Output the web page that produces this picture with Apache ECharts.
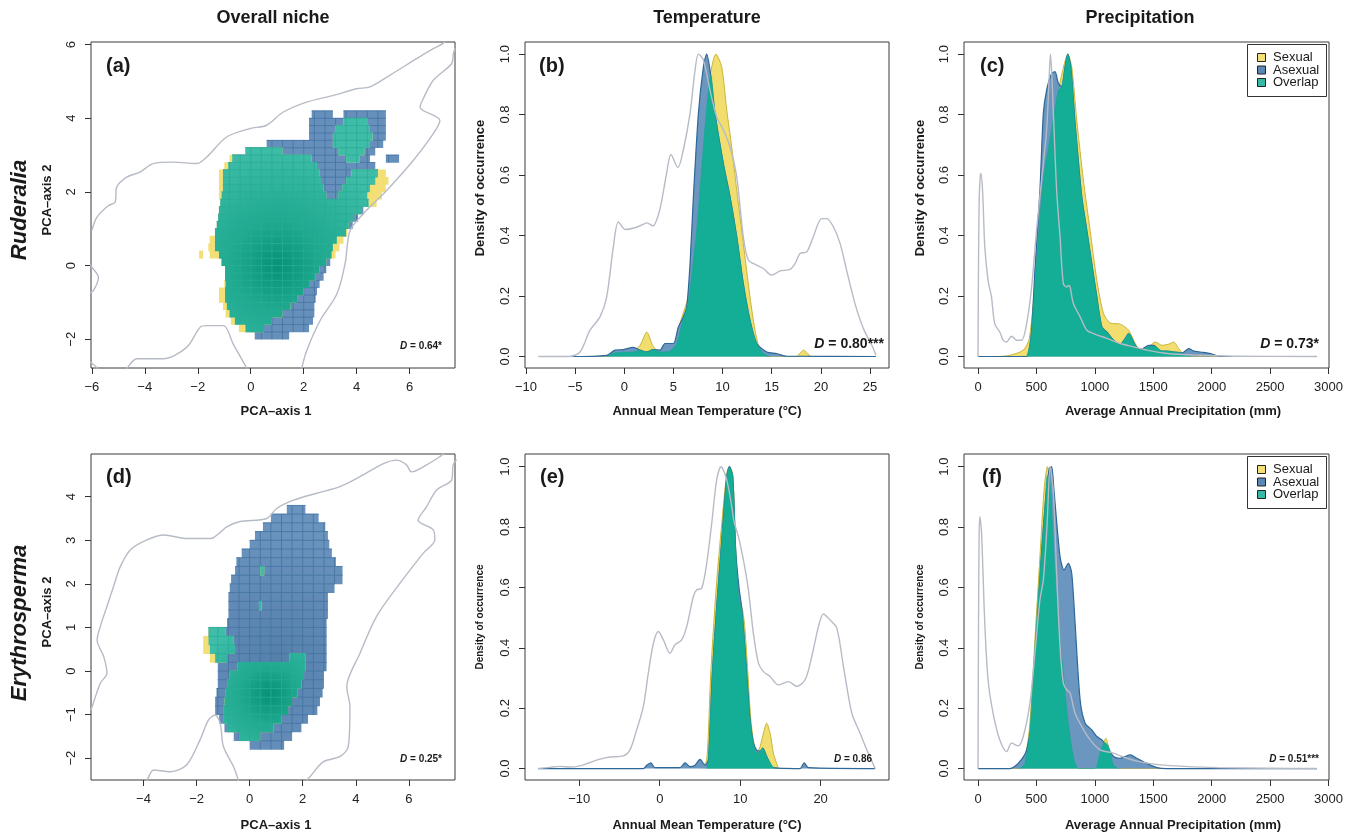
<!DOCTYPE html>
<html><head><meta charset="utf-8">
<script src="https://cdn.jsdelivr.net/npm/echarts@6/dist/echarts.min.js"></script>
<style>html,body{margin:0;padding:0;background:#fff}#c{width:1351px;height:834px}</style>
</head><body><div id="c"></div>
<script>
// ---------------- DATA ----------------
// Column titles / row labels
const COL_TITLES = ['Overall niche', 'Temperature', 'Precipitation'];
const ROW_LABELS = ['Ruderalia', 'Erythrosperma'];
const PANEL_TAGS = ['(a)', '(b)', '(c)', '(d)', '(e)', '(f)'];
const D_VALUES = ['0.64*', '0.80***', '0.73*', '0.25*', '0.86', '0.51***'];
const LEGEND_NAMES = ['Sexual', 'Asexual', 'Overlap'];

// Tick values
const TICKS_A_X = [-6, -4, -2, 0, 2, 4, 6];
const TICKS_A_Y = [-2, 0, 2, 4, 6];
const TICKS_D_X = [-4, -2, 0, 2, 4, 6];
const TICKS_D_Y = [-2, -1, 0, 1, 2, 3, 4];
const TICKS_B_X = [-10, -5, 0, 5, 10, 15, 20, 25];
const TICKS_E_X = [-10, 0, 10, 20];
const TICKS_P_X = [0, 500, 1000, 1500, 2000, 2500, 3000];
const TICKS_DENS_Y = [0, 0.2, 0.4, 0.6, 0.8, 1.0];

// Niche rasters: rows [yBottom, xStart, xEnd] (row height 0.2)
const NICHE_A_ASEXUAL = [
  [4.0, 2.3, 3.1], [4.0, 3.5, 5.1], [3.8, 2.2, 5.1], [3.6, 2.2, 5.1], [3.4, 2.2, 5.1],
  [3.2, 0.6, 5.0], [3.0, -0.2, 4.7], [2.8, -0.7, 4.5], [2.8, 5.1, 5.6], [2.6, -0.85, 4.7],
  [2.4, -1.05, 4.8], [2.2, -1.05, 4.7], [2.0, -1.05, 4.5], [1.8, -1.1, 4.4], [1.6, -1.15, 4.45],
  [1.4, -1.2, 4.25], [1.2, -1.22, 4.05], [1.0, -1.28, 3.85], [0.8, -1.35, 3.6], [0.6, -1.35, 3.25],
  [0.4, -1.35, 3.1], [0.2, -1.2, 3.05], [0.0, -1.1, 3.0], [-0.2, -0.97, 2.85], [-0.4, -0.97, 2.75],
  [-0.6, -0.95, 2.6], [-0.8, -0.97, 2.5], [-1.0, -0.97, 2.45], [-1.2, -0.9, 2.4], [-1.4, -0.8, 2.4],
  [-1.6, -0.6, 2.35], [-1.8, -0.2, 2.2], [-2.0, 0.15, 1.45]
];
const NICHE_A_SEXUAL = [
  [3.8, 3.5, 4.4], [3.6, 3.2, 4.5], [3.4, 3.1, 4.6], [3.2, 3.1, 4.5],
  [3.0, -0.2, 1.2], [3.0, 3.3, 4.3], [2.8, -0.8, 2.3], [2.8, 3.6, 4.1], [2.6, -1.0, 2.5],
  [2.4, -1.2, 2.6], [2.4, 3.8, 5.1], [2.2, -1.2, 2.65], [2.2, 3.6, 5.2], [2.0, -1.2, 2.75], [2.0, 3.45, 5.1],
  [1.8, -1.2, 2.85], [1.8, 3.3, 4.95], [1.6, -1.15, 4.75], [1.4, -1.2, 4.2], [1.2, -1.22, 3.9],
  [1.0, -1.28, 3.7], [0.8, -1.35, 3.65], [0.6, -1.55, 3.5], [0.4, -1.6, 3.35],
  [0.2, -1.95, -1.8], [0.2, -1.55, 3.2], [0.0, -1.1, 2.85], [-0.2, -0.97, 2.6], [-0.4, -0.97, 2.45],
  [-0.6, -1.0, 2.2], [-0.8, -1.2, 2.0], [-1.0, -1.2, 1.75], [-1.2, -1.05, 1.5], [-1.4, -0.95, 1.2],
  [-1.6, -0.75, 0.8], [-1.8, -0.45, 0.5]
];
const NICHE_D_ASEXUAL = [
  [3.6, 1.4, 2.1], [3.4, 0.8, 2.6], [3.2, 0.5, 2.85], [3.0, 0.2, 2.95], [2.8, 0.0, 3.0],
  [2.6, -0.3, 3.1], [2.4, -0.5, 3.25], [2.2, -0.55, 3.5], [2.0, -0.7, 3.5], [1.8, -0.75, 3.2],
  [1.6, -0.8, 2.95], [1.4, -0.8, 2.95], [1.2, -0.8, 2.95], [1.0, -0.85, 2.9], [0.8, -1.55, 2.9],
  [0.6, -1.55, 2.9], [0.4, -1.5, 2.9], [0.2, -1.3, 2.9], [0.0, -1.2, 2.9], [-0.2, -1.2, 2.8],
  [-0.4, -1.2, 2.8], [-0.6, -1.25, 2.75], [-0.8, -1.3, 2.65], [-1.0, -1.3, 2.55], [-1.2, -1.15, 2.2],
  [-1.4, -0.95, 1.95], [-1.6, -0.6, 1.6], [-1.8, 0.0, 1.3]
];
const NICHE_D_SEXUAL = [
  [2.2, 0.4, 0.55], [1.4, 0.35, 0.45], [0.8, -1.55, -0.9], [0.6, -1.75, -0.6], [0.4, -1.75, -0.55],
  [0.2, -1.5, -0.85], [0.2, 1.5, 2.1], [0.0, -0.45, 2.1], [-0.2, -0.75, 2.05], [-0.4, -0.85, 1.95],
  [-0.6, -0.9, 1.8], [-0.8, -0.95, 1.6], [-1.0, -1.0, 1.45], [-1.2, -1.0, 1.2], [-1.4, -0.85, 0.9],
  [-1.6, -0.4, 0.4]
];
// density peaks used for shading of niche rasters
const NICHE_A_PEAK = [1.0, 0.0];
const NICHE_D_PEAK = [0.75, -0.55];
const NICHE_D_ASEX_PEAK = [1.0, 0.3];

// Background environment contour lines [x, y]
const ENV_A = [
  [[-6.0,0.95],[-5.81,1.31],[-5.37,1.63],[-5.12,1.72],[-5.06,2.13],[-4.68,2.40],[-4.18,2.54],[-3.68,2.77],[-2.92,2.81],[-2.04,2.77],[-1.66,2.95],[-0.91,3.49],[-0.03,3.72],[0.60,3.81],[1.23,4.17],[2.11,4.44],[3.12,4.62],[4.0,4.80],[4.5,4.85],[5.26,5.17],[6.26,5.62],[6.89,5.89],[7.27,6.04],[7.4,6.2]],
  [[7.72,5.9],[7.65,5.76],[7.58,5.48],[6.89,5.03],[6.51,4.53],[6.39,4.30],[7.14,3.94],[6.89,3.58],[6.14,2.86],[5.13,2.04],[4.25,1.41],[3.75,0.95],[3.56,0.05],[3.25,-0.77],[2.62,-1.49],[2.11,-2.31],[1.92,-2.79],[1.88,-2.9]],
  [[-4.75,-2.9],[-4.68,-2.79],[-4.30,-2.53],[-3.30,-2.53],[-2.42,-2.22],[-1.91,-1.67],[-1.66,-1.63],[-1.03,-1.63],[-0.66,-2.13],[-0.15,-2.79],[-0.1,-2.9]],
  [[-6.1,0.05],[-6.0,-0.04],[-5.75,-0.32],[-5.94,-0.68],[-6.1,-0.75]],
  [[-6.1,-2.6],[-6.0,-2.65],[-5.82,-2.76],[-5.7,-2.9]]
];
const ENV_D = [
  [[-6.0,-0.9],[-5.94,-0.82],[-5.63,-0.28],[-5.38,-0.05],[-5.50,0.33],[-5.75,0.71],[-5.63,1.02],[-5.38,1.48],[-5.13,1.94],[-4.88,2.39],[-4.5,2.78],[-3.87,3.01],[-3.24,3.12],[-2.37,3.04],[-1.49,3.04],[-0.86,3.31],[-0.36,3.43],[0.64,3.50],[1.02,3.73],[1.65,3.92],[2.53,4.08],[3.40,4.23],[4.16,4.46],[5.04,4.76],[5.54,4.84],[5.91,4.73],[6.10,4.57],[6.67,4.73],[7.17,4.92],[7.29,4.98],[7.35,5.05]],
  [[7.8,4.85],[7.67,4.73],[7.61,4.38],[7.04,4.15],[6.67,3.77],[6.35,3.46],[6.92,3.24],[6.98,3.01],[6.54,2.70],[5.66,2.01],[4.78,1.25],[4.16,0.41],[3.66,-0.36],[3.78,-0.82],[3.72,-1.73],[3.41,-1.96],[2.78,-2.08],[2.28,-2.42],[2.15,-2.51],[2.1,-2.6]],
  [[-3.95,-2.6],[-3.87,-2.51],[-3.62,-2.27],[-2.99,-2.31],[-2.37,-2.15],[-1.87,-1.58],[-1.55,-1.12],[-1.30,-1.01],[-1.11,-1.20],[-0.99,-1.73],[-0.61,-2.19],[-0.42,-2.51],[-0.38,-2.6]]
];

// (b) Ruderalia, annual mean temperature
const B_ENV = [[-8.74,0],[-5.69,0],[-4.5,0.015],[-3.49,0.087],[-2.47,0.131],[-1.79,0.197],[-1.11,0.363],[-0.6,0.445],[0.1,0.42],[1.0,0.425],[1.8,0.435],[2.3,0.442],[2.9,0.432],[3.6,0.484],[4.3,0.605],[4.75,0.668],[5.45,0.625],[6.0,0.682],[6.69,0.804],[7.2,0.947],[7.54,1.0],[8.05,0.98],[8.72,0.881],[9.4,0.793],[10.08,0.749],[10.76,0.693],[11.44,0.594],[12.11,0.396],[12.62,0.319],[13.47,0.302],[14.15,0.291],[15.0,0.269],[15.84,0.283],[16.86,0.288],[17.37,0.307],[17.88,0.341],[18.56,0.346],[19.23,0.396],[20.08,0.456],[20.59,0.456],[21.27,0.429],[21.95,0.374],[22.62,0.285],[23.47,0.175],[24.32,0.093],[25.17,0.038],[25.61,0.004]];
const B_SEXUAL = [[-5.7,0],[-1.8,0],[-0.4,0.01],[0.9,0.018],[1.6,0.037],[2.1,0.072],[2.28,0.081],[2.45,0.074],[2.96,0.032],[3.64,0.015],[4.65,0.018],[5.33,0.048],[5.67,0.109],[6.69,0.219],[7.37,0.418],[8.05,0.693],[8.65,0.914],[9.33,1.0],[9.91,0.958],[10.42,0.815],[10.93,0.693],[11.44,0.55],[12.11,0.374],[12.79,0.197],[13.3,0.087],[13.81,0.021],[14.49,0.001],[17.5,0],[17.9,0.012],[18.22,0.021],[18.6,0.012],[19.0,0],[25.6,0]];
const B_ASEXUAL = [[-5.7,0],[-1.79,0.004],[-0.94,0.021],[-0.09,0.023],[0.92,0.03],[1.6,0.021],[2.28,0.015],[2.96,0.023],[3.64,0.021],[4.14,0.043],[4.99,0.043],[5.5,0.098],[6.01,0.131],[6.35,0.164],[6.69,0.307],[7.03,0.528],[7.54,0.804],[8.05,0.958],[8.38,1.0],[8.72,0.947],[9.23,0.804],[10.08,0.638],[10.76,0.528],[11.44,0.396],[12.11,0.241],[12.79,0.12],[13.47,0.043],[14.49,0.015],[15.5,0.01],[16.5,0.001],[25.6,0]];
const B_OVERLAP = [[-1.8,0],[-0.94,0.012],[0.92,0.015],[1.6,0.02],[2.28,0.015],[2.96,0.023],[3.64,0.015],[4.65,0.018],[5.33,0.043],[5.84,0.105],[6.35,0.16],[6.69,0.219],[7.37,0.418],[8.05,0.693],[8.65,0.914],[8.8,0.93],[9.23,0.804],[10.08,0.638],[10.76,0.528],[11.44,0.396],[12.11,0.241],[12.79,0.12],[13.47,0.043],[14.15,0.01],[14.83,0]];

// (c) Ruderalia, annual precipitation
const C_ENV = [[0,0],[4,0.3],[10,0.52],[18,0.59],[25,0.605],[40,0.54],[58,0.363],[86,0.252],[115,0.197],[143,0.109],[186,0.081],[215,0.054],[244,0.048],[287,0.067],[330,0.054],[373,0.054],[416,0.109],[459,0.23],[501,0.418],[544,0.583],[587,0.749],[612,0.95],[620,1.0],[632,0.93],[645,0.804],[673,0.55],[702,0.396],[730,0.241],[759,0.23],[775,0.235],[788,0.23],[816,0.175],[874,0.131],[931,0.087],[988,0.076],[1103,0.06],[1217,0.043],[1332,0.032],[1446,0.021],[1618,0.01],[1904,0.004],[2190,0.001],[2900,0]];
const C_SEXUAL = [[0,0],[158,0],[272,0.004],[387,0.021],[440,0.06],[501,0.307],[559,0.583],[630,0.749],[688,0.881],[740,0.97],[768,1.0],[802,0.958],[845,0.782],[902,0.583],[959,0.418],[1017,0.252],[1074,0.142],[1131,0.111],[1217,0.107],[1289,0.087],[1346,0.043],[1389,0.021],[1461,0.032],[1518,0.048],[1575,0.037],[1632,0.041],[1675,0.048],[1718,0.026],[1761,0.007],[1818,0],[2900,0]];
const C_ASEXUAL = [[0,0],[416,0],[440,0.03],[459,0.087],[487,0.285],[530,0.55],[559,0.804],[587,0.881],[630,0.936],[659,0.942],[688,0.903],[716,0.892],[745,0.958],[768,1.0],[794,0.958],[831,0.771],[888,0.528],[931,0.418],[974,0.307],[1017,0.197],[1060,0.098],[1103,0.081],[1160,0.054],[1217,0.04],[1260,0.06],[1289,0.076],[1346,0.037],[1389,0.021],[1461,0.037],[1504,0.037],[1561,0.018],[1618,0.018],[1675,0.015],[1747,0.012],[1804,0.026],[1847,0.018],[1904,0.015],[1990,0.01],[2076,0],[2900,0]];
const C_OVERLAP = [[416,0],[440,0.03],[459,0.087],[501,0.307],[559,0.583],[630,0.749],[688,0.881],[716,0.892],[745,0.958],[768,1.0],[794,0.958],[831,0.771],[888,0.528],[931,0.418],[974,0.307],[1017,0.197],[1060,0.098],[1103,0.081],[1160,0.054],[1217,0.04],[1260,0.06],[1289,0.076],[1346,0.037],[1389,0.021],[1461,0.032],[1518,0.033],[1575,0.018],[1632,0.018],[1675,0.015],[1718,0.013],[1761,0.007],[1818,0]];

// (e) Erythrosperma, annual mean temperature
const E_ENV = [[-15.1,0],[-13.65,0.004],[-12.4,0.007],[-11.16,0.005],[-9.91,0.009],[-8.67,0.02],[-7.43,0.031],[-6.18,0.038],[-4.53,0.042],[-3.7,0.062],[-2.87,0.128],[-2.04,0.205],[-1.42,0.316],[-0.79,0.415],[-0.17,0.454],[0.45,0.426],[1.28,0.382],[1.9,0.41],[2.73,0.426],[3.35,0.47],[4.18,0.57],[4.6,0.592],[5.22,0.597],[5.84,0.68],[6.46,0.812],[7.08,0.956],[7.62,1.0],[8.33,0.956],[8.95,0.868],[9.24,0.818],[9.78,0.768],[10.4,0.691],[11.02,0.592],[11.64,0.448],[12.27,0.349],[12.89,0.321],[13.72,0.305],[14.75,0.277],[16.0,0.288],[17.03,0.272],[18.07,0.294],[18.9,0.371],[19.73,0.47],[20.35,0.512],[21.18,0.492],[22.01,0.465],[22.84,0.338],[23.88,0.183],[24.91,0.117],[25.74,0.062],[26.78,0]];
const E_SEXUAL = [[5.22,0],[5.84,0.028],[6.34,0.316],[7.0,0.592],[7.71,0.812],[8.33,0.978],[8.66,1.0],[9.07,0.978],[9.45,0.72],[9.9,0.56],[10.3,0.525],[10.6,0.46],[10.95,0.32],[11.3,0.17],[11.64,0.095],[12.06,0.051],[12.47,0.073],[12.89,0.117],[13.3,0.15],[13.72,0.117],[14.13,0.051],[14.75,0]];
const E_ASEXUAL = [[-15.1,0],[-2.04,0],[-1.62,0.011],[-1.1,0.019],[-0.6,0.003],[2.52,0.003],[3.14,0.019],[3.77,0.006],[4.39,0.011],[5.01,0.03],[5.63,0.011],[6.05,0.03],[6.54,0.316],[7.08,0.537],[7.71,0.757],[8.33,0.967],[8.66,1.0],[9.07,0.967],[9.45,0.72],[9.85,0.6],[10.2,0.53],[10.6,0.4],[10.9,0.28],[11.2,0.17],[11.6,0.09],[12.06,0.06],[12.5,0.058],[12.8,0.068],[13.3,0.04],[14.13,0.003],[17.45,0],[17.95,0.019],[18.49,0.003],[26.78,0]];
const E_OVERLAP = [[5.84,0],[6.05,0.03],[6.54,0.316],[7.08,0.537],[7.71,0.757],[8.33,0.967],[8.66,1.0],[9.07,0.967],[9.45,0.72],[9.85,0.56],[10.2,0.525],[10.6,0.4],[10.9,0.28],[11.2,0.17],[11.6,0.09],[12.06,0.051],[12.5,0.058],[12.8,0.068],[13.3,0.04],[14.13,0.003],[14.5,0]];

// (f) Erythrosperma, annual precipitation
const F_ENV = [[0,0],[4,0.45],[9,0.76],[15,0.834],[29,0.79],[58,0.481],[86,0.294],[129,0.183],[186,0.095],[244,0.056],[287,0.084],[344,0.075],[387,0.106],[444,0.216],[487,0.382],[530,0.559],[559,0.625],[590,0.8],[618,1.0],[645,0.912],[673,0.647],[702,0.404],[730,0.283],[759,0.261],[788,0.25],[831,0.183],[888,0.139],[960,0.095],[1045,0.062],[1160,0.051],[1274,0.034],[1389,0.022],[1561,0.012],[1761,0.007],[2047,0.003],[2477,0.001],[2900,0]];
const F_SEXUAL = [[0,0],[358,0],[401,0.028],[444,0.15],[487,0.426],[530,0.702],[565,0.922],[593,1.0],[622,0.922],[650,0.702],[688,0.481],[730,0.316],[773,0.15],[816,0.04],[859,0],[988,0],[1031,0.04],[1074,0.084],[1094,0.1],[1117,0.073],[1160,0.011],[1203,0],[2900,0]];
const F_ASEXUAL = [[0,0],[272,0],[344,0.017],[416,0.062],[473,0.205],[524,0.592],[573,0.867],[610,0.995],[630,1.0],[650,0.922],[702,0.702],[736,0.658],[773,0.68],[802,0.647],[831,0.481],[874,0.227],[917,0.15],[974,0.128],[1017,0.106],[1060,0.095],[1103,0.073],[1160,0.04],[1217,0.034],[1260,0.04],[1303,0.045],[1360,0.034],[1446,0.017],[1532,0.003],[1618,0],[2900,0]];
const F_OVERLAP = [[358,0],[401,0.017],[444,0.128],[487,0.404],[530,0.647],[573,0.867],[593,0.97],[610,0.96],[622,0.922],[650,0.702],[688,0.481],[730,0.316],[773,0.15],[816,0.04],[859,0],[1003,0],[1037,0.04],[1074,0.084],[1088,0.085],[1117,0.073],[1160,0.011],[1203,0]];

// ---------------- LAYOUT / STYLE ----------------
const FONT = '"Liberation Sans", Arial, Helvetica, sans-serif';
const NICHE_DY = 0.2, NICHE_DX = 0.4;
const GRIDS = [
  {left: 91, top: 42, width: 364, height: 326},
  {left: 525, top: 42, width: 364, height: 326},
  {left: 964, top: 42, width: 365, height: 326},
  {left: 91, top: 454, width: 364, height: 326},
  {left: 525, top: 454, width: 364, height: 326},
  {left: 964, top: 454, width: 365, height: 326}
];
const RANGES = [
  {x: [-6.03, 7.71], y: [-2.78, 6.07], xt: TICKS_A_X, yt: TICKS_A_Y, dens: false},
  {x: [-10.1, 26.93], y: [-0.038, 1.04], xt: TICKS_B_X, yt: TICKS_DENS_Y, dens: true},
  {x: [-120, 3004], y: [-0.038, 1.04], xt: TICKS_P_X, yt: TICKS_DENS_Y, dens: true},
  {x: [-5.98, 7.74], y: [-2.5, 4.98], xt: TICKS_D_X, yt: TICKS_D_Y, dens: false},
  {x: [-16.75, 28.5], y: [-0.038, 1.042], xt: TICKS_E_X, yt: TICKS_DENS_Y, dens: true},
  {x: [-120, 3004], y: [-0.038, 1.042], xt: TICKS_P_X, yt: TICKS_DENS_Y, dens: true}
];
const COL = {
  sexFill: '#f1de6e', sexLine: '#c9b43c',
  asexFill: '#6a96bf', asexLine: '#2d6899',
  ovlFill: '#14ad96', env: '#b6bbc6',
  nBlue: '#6690bb', nBlueGrid: '#4272a2', nYellow: '#f3df76', nTeal: '#3dbca8', nTealGrid: '#27ad96'
};

const minus = v => (v < 0 ? '\u2212' + Math.abs(v) : String(v));

const chart = echarts.init(document.getElementById('c'), null, {renderer: 'canvas'});

const xAxes = [], yAxes = [];
RANGES.forEach((r, i) => {
  xAxes.push({
    type: 'value', gridIndex: i, min: r.x[0], max: r.x[1], position: 'bottom',
    axisLine: {show: false, onZero: false}, splitLine: {show: false},
    axisTick: {show: true, inside: false, length: 6, lineStyle: {color: '#333', width: 1}, customValues: r.xt},
    axisLabel: {customValues: r.xt, formatter: v => minus(v), fontSize: 13, color: '#222', margin: 13, fontFamily: FONT}
  });
  yAxes.push({
    type: 'value', gridIndex: i, min: r.y[0], max: r.y[1], position: 'left',
    axisLine: {show: false, onZero: false}, splitLine: {show: false},
    axisTick: {show: true, inside: false, length: 6, lineStyle: {color: '#333', width: 1}, customValues: r.yt},
    axisLabel: {customValues: r.yt, rotate: 90, formatter: v => (r.dens ? v.toFixed(1) : minus(v)),
      fontSize: 13, color: '#222', margin: 13, fontFamily: FONT}
  });
});

function intersectRows(a, s) {
  const out = [];
  a.forEach(r1 => s.forEach(r2 => {
    if (Math.abs(r1[0] - r2[0]) < 1e-9) {
      const lo = Math.max(r1[1], r2[1]), hi = Math.min(r1[2], r2[2]);
      if (hi > lo) out.push([r1[0], lo, hi]);
    }
  }));
  return out;
}

function nicheSeries(gi, rows, st) {
  return {
    type: 'custom', xAxisIndex: gi, yAxisIndex: gi, silent: true, clip: true, z: 2,
    data: rows, encode: {x: [1, 2], y: 0},
    renderItem: function (params, api) {
      const yb = api.value(0), x0 = api.value(1), x1 = api.value(2);
      const tl = api.coord([x0, yb + NICHE_DY]);
      const br = api.coord([x1, yb]);
      let fill = st.fill;
      if (st.center) {
        const c = api.coord(st.center);
        fill = new echarts.graphic.RadialGradient(c[0], c[1], st.r, st.stops, true);
      }
      const children = [{type: 'rect', shape: {x: tl[0], y: tl[1] - 0.3, width: br[0] - tl[0], height: br[1] - tl[1] + 0.6}, style: {fill: fill}}];
      if (st.grid) {
        children.push({type: 'line', shape: {x1: tl[0], y1: tl[1], x2: br[0], y2: tl[1]}, style: {stroke: st.grid, lineWidth: 0.8}});
        for (let k = Math.floor(x0 / NICHE_DX) + 1; k * NICHE_DX < x1 - 1e-6; k++) {
          const p = api.coord([k * NICHE_DX, yb]);
          children.push({type: 'line', shape: {x1: p[0], y1: tl[1], x2: p[0], y2: br[1]}, style: {stroke: st.grid, lineWidth: 0.8}});
        }
      }
      return {type: 'group', children: children};
    }
  };
}

function envLine(gi, data) {
  return {type: 'line', xAxisIndex: gi, yAxisIndex: gi, data: data, showSymbol: false, symbol: 'none',
    smooth: 0.3, silent: true, z: 6, lineStyle: {color: COL.env, width: 1.4}};
}
function areaSeries(gi, name, data, fill, stroke, lw, z) {
  return {type: 'line', name: name, xAxisIndex: gi, yAxisIndex: gi, data: data, showSymbol: false, symbol: 'none',
    smooth: 0.25, silent: true, z: z, lineStyle: {color: stroke, width: lw}, itemStyle: {color: fill},
    areaStyle: {color: fill, opacity: 1}};
}

const series = [];
// Niche (a)
series.push(nicheSeries(0, NICHE_A_ASEXUAL, {fill: COL.nBlue, grid: COL.nBlueGrid}));
series.push(nicheSeries(0, NICHE_A_SEXUAL, {fill: COL.nYellow}));
series.push(nicheSeries(0, intersectRows(NICHE_A_ASEXUAL, NICHE_A_SEXUAL), {fill: COL.nTeal, grid: COL.nTealGrid,
  center: NICHE_A_PEAK, r: 120, stops: [{offset: 0, color: '#069276'}, {offset: 0.35, color: '#1ea98f'}, {offset: 1, color: '#3fbda9'}]}));
ENV_A.forEach(d => series.push(envLine(0, d)));
// Niche (d)
series.push(nicheSeries(3, NICHE_D_ASEXUAL, {fill: COL.nBlue, grid: COL.nBlueGrid,
  center: NICHE_D_ASEX_PEAK, r: 130, stops: [{offset: 0, color: '#5680ac'}, {offset: 1, color: '#6a94be'}]}));
series.push(nicheSeries(3, NICHE_D_SEXUAL, {fill: COL.nYellow}));
series.push(nicheSeries(3, intersectRows(NICHE_D_ASEXUAL, NICHE_D_SEXUAL), {fill: COL.nTeal, grid: COL.nTealGrid,
  center: NICHE_D_PEAK, r: 75, stops: [{offset: 0, color: '#069276'}, {offset: 0.4, color: '#20aa90'}, {offset: 1, color: '#3fbda9'}]}));
ENV_D.forEach(d => series.push(envLine(3, d)));
// Density panels
[[1, B_SEXUAL, B_ASEXUAL, B_OVERLAP, B_ENV], [2, C_SEXUAL, C_ASEXUAL, C_OVERLAP, C_ENV],
 [4, E_SEXUAL, E_ASEXUAL, E_OVERLAP, E_ENV], [5, F_SEXUAL, F_ASEXUAL, F_OVERLAP, F_ENV]].forEach(p => {
  const gi = p[0];
  series.push(areaSeries(gi, LEGEND_NAMES[0], p[1], COL.sexFill, COL.sexLine, 1, 2));
  series.push(areaSeries(gi, LEGEND_NAMES[1], p[2], COL.asexFill, COL.asexLine, 1.2, 3));
  series.push(areaSeries(gi, LEGEND_NAMES[2], p[3], COL.ovlFill, '#12a791', 0.6, 4));
  series.push(envLine(gi, p[4]));
});

// ---------------- TEXT (graphic) ----------------
const g = [];
function txt(text, x, y, font, opts) {
  opts = opts || {};
  g.push({type: 'text', x: x, y: y, rotation: opts.rot || 0, silent: true, z: 100,
    style: Object.assign({text: text, font: font, fill: opts.fill || '#1a1a1a',
      align: opts.align || 'center', verticalAlign: 'middle',
      textAlign: opts.align || 'center', textVerticalAlign: 'middle'}, opts.extra || {})});
}
const B = s => 'bold ' + s + 'px ' + FONT;
txt(COL_TITLES[0], 273, 18, B(18));
txt(COL_TITLES[1], 707, 18, B(18));
txt(COL_TITLES[2], 1140, 18, B(18));
txt(ROW_LABELS[0], 20, 210, 'italic bold 22px ' + FONT, {rot: Math.PI / 2});
txt(ROW_LABELS[1], 20, 623, 'italic bold 22px ' + FONT, {rot: Math.PI / 2});
// axis titles
txt('PCA\u2013axis 2', 47, 200, B(13), {rot: Math.PI / 2});
txt('PCA\u2013axis 2', 47, 612, B(13), {rot: Math.PI / 2});
txt('Density of occurrence', 480, 188, B(13), {rot: Math.PI / 2});
txt('Density of occurrence', 920, 188, B(13), {rot: Math.PI / 2});
txt('Density of occurrence', 480.5, 617, B(10), {rot: Math.PI / 2});
txt('Density of occurrence', 920.5, 617, B(10), {rot: Math.PI / 2});
txt('PCA\u2013axis 1', 276, 411, B(13));
txt('Annual Mean Temperature (\u00b0C)', 707, 411, B(13));
txt('Average Annual Precipitation (mm)', 1173, 411, B(13));
txt('PCA\u2013axis 1', 276, 825, B(13));
txt('Annual Mean Temperature (\u00b0C)', 707, 825, B(13));
txt('Average Annual Precipitation (mm)', 1173, 825, B(13));
// panel tags
[[106, 66], [539, 66], [980, 66], [106, 477], [540, 477], [982, 477]].forEach((p, i) =>
  txt(PANEL_TAGS[i], p[0], p[1], B(20), {align: 'left'}));
// D statistics
[[442, 346, 10], [884, 344, 14], [1319, 344, 14], [442, 759, 10], [872, 759, 10], [1319, 759, 10]].forEach((p, i) => {
  g.push({type: 'text', x: p[0], y: p[1], silent: true, z: 100,
    style: {text: '{i|D}{n| = ' + D_VALUES[i] + '}', align: 'right', verticalAlign: 'middle',
      textAlign: 'right', textVerticalAlign: 'middle',
      rich: {i: {fontStyle: 'italic', fontWeight: 'bold', fontSize: p[2], fontFamily: FONT, fill: '#1a1a1a'},
             n: {fontWeight: 'bold', fontSize: p[2], fontFamily: FONT, fill: '#1a1a1a'}}}});
});
// legends for (c) and (f)
const LEG_SW = [COL.nYellow, '#5a87b5', '#35b8a5'];
[45, 457].forEach(top => {
  g.push({type: 'rect', silent: true, z: 90, shape: {x: 1247.5, y: top - 0.5, width: 79, height: 52},
    style: {fill: '#fff', stroke: '#333', lineWidth: 1}});
  LEGEND_NAMES.forEach((n, k) => {
    const cy = top + 12.5 + k * 12.5;
    g.push({type: 'rect', silent: true, z: 95, shape: {x: 1257.5, y: cy - 4, width: 8, height: 8},
      style: {fill: LEG_SW[k], stroke: '#222', lineWidth: 1}});
    txt(n, 1273, cy, '13px ' + FONT, {align: 'left'});
  });
});

chart.setOption({
  animation: false,
  backgroundColor: '#fff',
  grid: GRIDS.map(gr => Object.assign({show: true, borderColor: '#3a3a3a', borderWidth: 1, backgroundColor: 'transparent', containLabel: false}, gr)),
  xAxis: xAxes,
  yAxis: yAxes,
  series: series,
  graphic: g
});
</script></body></html>
